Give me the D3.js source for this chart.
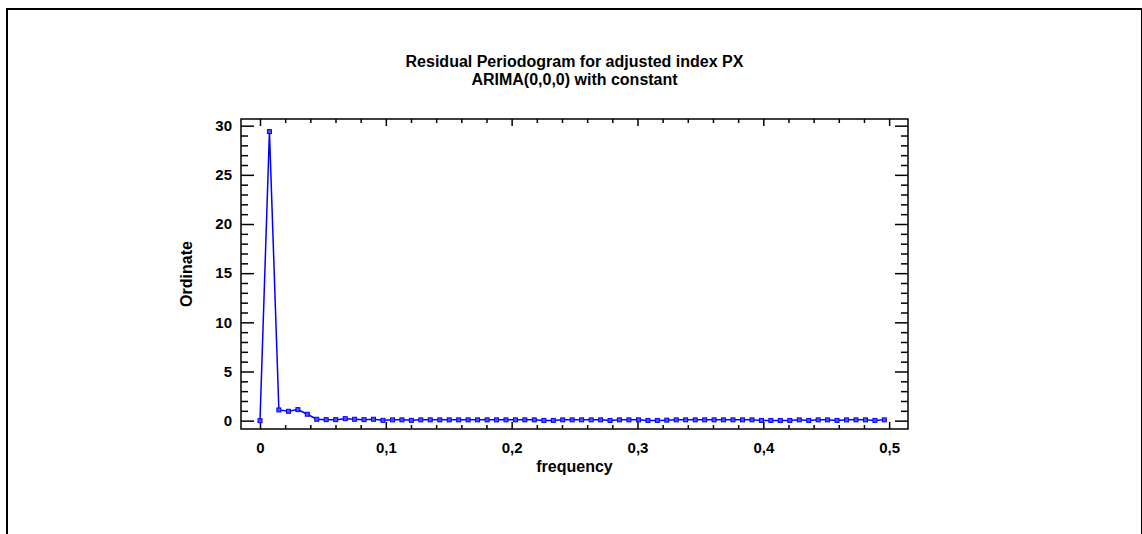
<!DOCTYPE html>
<html>
<head>
<meta charset="utf-8">
<script src="https://cdn.jsdelivr.net/npm/d3@7"></script>
<style>
  body { margin: 0; background: #fff; }
  svg text { font-family: "Liberation Sans", Arial, sans-serif; font-weight: bold; fill: #000; }
</style>
</head>
<body>
<div id="chart"></div>
<script>
var width = 1142,
    height = 534;

// frequencies (k/133) and periodogram ordinates
var frequency = [0, 0.0075, 0.0150, 0.0226, 0.0301, 0.0376, 0.0451, 0.0526, 0.0602, 0.0677,
  0.0752, 0.0827, 0.0902, 0.0977, 0.1053, 0.1128, 0.1203, 0.1278, 0.1353, 0.1429,
  0.1504, 0.1579, 0.1654, 0.1729, 0.1805, 0.1880, 0.1955, 0.2030, 0.2105, 0.2180,
  0.2256, 0.2331, 0.2406, 0.2481, 0.2556, 0.2632, 0.2707, 0.2782, 0.2857, 0.2932,
  0.3008, 0.3083, 0.3158, 0.3233, 0.3308, 0.3383, 0.3459, 0.3534, 0.3609, 0.3684,
  0.3759, 0.3835, 0.3910, 0.3985, 0.4060, 0.4135, 0.4211, 0.4286, 0.4361, 0.4436,
  0.4511, 0.4586, 0.4662, 0.4737, 0.4812, 0.4887, 0.4962];

var ordinate = [0, 29.4, 1.09, 0.95, 1.12, 0.65, 0.14, 0.10, 0.10, 0.20,
  0.14, 0.10, 0.14, 0.03, 0.08, 0.08, 0.03, 0.08, 0.08, 0.08,
  0.08, 0.08, 0.08, 0.08, 0.08, 0.08, 0.08, 0.08, 0.08, 0.08,
  0.02, 0.02, 0.08, 0.08, 0.08, 0.08, 0.08, 0.02, 0.08, 0.08,
  0.08, 0.02, 0.02, 0.05, 0.08, 0.08, 0.08, 0.08, 0.08, 0.08,
  0.08, 0.08, 0.08, 0.02, 0.02, 0.02, 0.02, 0.08, 0.02, 0.08,
  0.08, 0.02, 0.08, 0.08, 0.08, 0.02, 0.08];

var xTicks = [0, 0.1, 0.2, 0.3, 0.4, 0.5];
var xTickLabels = ["0", "0,1", "0,2", "0,3", "0,4", "0,5"];
var xMinor = [0.02, 0.04, 0.06, 0.08, 0.12, 0.14, 0.16, 0.18, 0.22, 0.24, 0.26, 0.28,
  0.32, 0.34, 0.36, 0.38, 0.42, 0.44, 0.46, 0.48];
var yTicks = [0, 5, 10, 15, 20, 25, 30];
var yTickLabels = ["0", "5", "10", "15", "20", "25", "30"];
var yMinor = [1, 2, 3, 4, 6, 7, 8, 9, 11, 12, 13, 14, 16, 17, 18, 19,
  21, 22, 23, 24, 26, 27, 28, 29];

var titleLines = ["Residual Periodogram for adjusted index PX", "ARIMA(0,0,0) with constant"];

var plot = { left: 241, right: 908, top: 119, bottom: 429 };

var svg = d3.select("#chart")
  .append("svg")
  .attr("width", width)
  .attr("height", height);

// outer frame
svg.append("rect")
  .attr("x", 7).attr("y", 9)
  .attr("width", 1135).attr("height", 600)
  .attr("fill", "none")
  .attr("stroke", "#000")
  .attr("stroke-width", 2);

var x = d3.scaleLinear().domain([-0.0151, 0.515]).range([plot.left, plot.right]);
var y = d3.scaleLinear().domain([-0.85, 30.68]).range([plot.bottom, plot.top]);

function styleAxis(g) {
  g.select(".domain").remove();
  g.selectAll(".tick line").attr("stroke", "#000").attr("stroke-width", 1.5);
  g.selectAll(".tick text").attr("font-size", 15).attr("font-family", "Liberation Sans, Arial, sans-serif").attr("font-weight", "bold");
}

// bottom
svg.append("g").attr("transform", "translate(0," + plot.bottom + ")")
  .call(d3.axisBottom(x).tickValues(xTicks).tickSize(-7).tickPadding(13)
    .tickFormat(function(d, i) { return xTickLabels[i]; }))
  .call(styleAxis);
svg.append("g").attr("transform", "translate(0," + plot.bottom + ")")
  .call(d3.axisBottom(x).tickValues(xMinor).tickSize(-4).tickFormat(""))
  .call(styleAxis);
// top
svg.append("g").attr("transform", "translate(0," + plot.top + ")")
  .call(d3.axisTop(x).tickValues(xTicks).tickSize(-7).tickFormat(""))
  .call(styleAxis);
svg.append("g").attr("transform", "translate(0," + plot.top + ")")
  .call(d3.axisTop(x).tickValues(xMinor).tickSize(-4).tickFormat(""))
  .call(styleAxis);
// left
svg.append("g").attr("transform", "translate(" + plot.left + ",0)")
  .call(d3.axisLeft(y).tickValues(yTicks).tickSize(-13).tickPadding(9)
    .tickFormat(function(d, i) { return yTickLabels[i]; }))
  .call(styleAxis);
svg.append("g").attr("transform", "translate(" + plot.left + ",0)")
  .call(d3.axisLeft(y).tickValues(yMinor).tickSize(-7).tickFormat(""))
  .call(styleAxis);
// right
svg.append("g").attr("transform", "translate(" + plot.right + ",0)")
  .call(d3.axisRight(y).tickValues(yTicks).tickSize(-13).tickFormat(""))
  .call(styleAxis);
svg.append("g").attr("transform", "translate(" + plot.right + ",0)")
  .call(d3.axisRight(y).tickValues(yMinor).tickSize(-7).tickFormat(""))
  .call(styleAxis);

// plot frame
svg.append("rect")
  .attr("x", plot.left).attr("y", plot.top)
  .attr("width", plot.right - plot.left).attr("height", plot.bottom - plot.top)
  .attr("fill", "none")
  .attr("stroke", "#000")
  .attr("stroke-width", 1.5);

var data = frequency.map(function(f, i) { return { f: f, v: ordinate[i] }; });

var line = d3.line()
  .x(function(d) { return x(d.f); })
  .y(function(d) { return y(d.v); });

svg.append("path")
  .datum(data)
  .attr("d", line)
  .attr("fill", "none")
  .attr("stroke", "#0000ff")
  .attr("stroke-width", 1.5);

svg.selectAll(".pt")
  .data(data)
  .enter().append("rect")
    .attr("class", "pt")
    .attr("x", function(d) { return x(d.f) - 2; })
    .attr("y", function(d) { return y(d.v) - 2; })
    .attr("width", 4).attr("height", 4)
    .attr("fill", "#5050ff")
    .attr("stroke", "#0000ff")
    .attr("stroke-width", 1);

// titles
svg.selectAll(".title")
  .data(titleLines)
  .enter().append("text")
    .attr("class", "title")
    .attr("x", (plot.left + plot.right) / 2)
    .attr("y", function(d, i) { return 67 + i * 18; })
    .attr("text-anchor", "middle")
    .attr("font-size", 16)
    .text(function(d) { return d; });

svg.append("text")
  .attr("x", (plot.left + plot.right) / 2)
  .attr("y", 472)
  .attr("text-anchor", "middle")
  .attr("font-size", 16)
  .text("frequency");

svg.append("text")
  .attr("transform", "translate(192," + ((plot.top + plot.bottom) / 2) + ") rotate(-90)")
  .attr("text-anchor", "middle")
  .attr("font-size", 16)
  .text("Ordinate");
</script>
</body>
</html>
